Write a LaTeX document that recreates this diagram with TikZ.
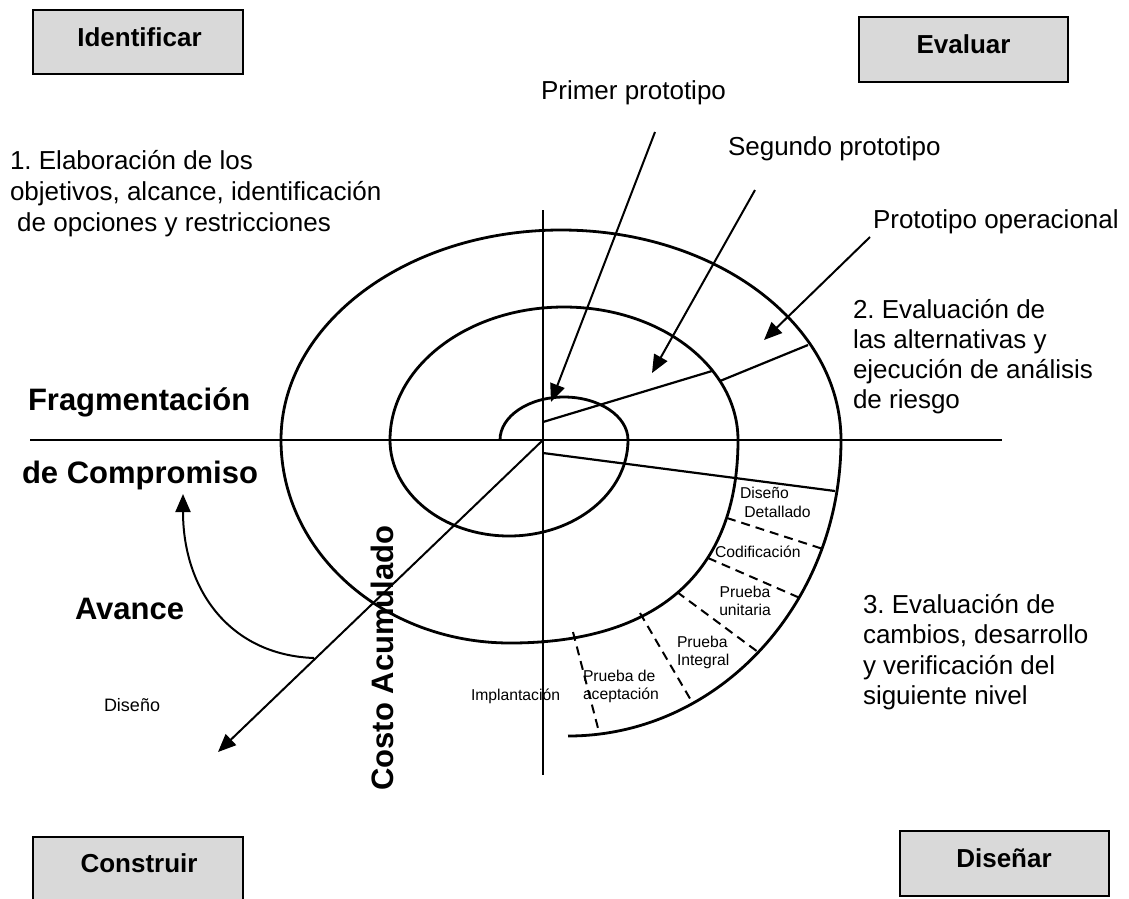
\documentclass[tikz,border=0pt]{standalone}
\usepackage{fontspec}
\setmainfont{Liberation Sans}
\usetikzlibrary{arrows.meta}

% stacked lines with a fixed baseline distance; the baseline of the stack is that of its first line
\newcommand\stackleft[2]{\vtop{\baselineskip=#1\relax\halign{##\hfil\cr#2\crcr}}}
\newcommand\stackmid[2]{\vtop{\baselineskip=#1\relax\halign{\hfil##\hfil\cr#2\crcr}}}

\definecolor{boxgray}{RGB}{217,217,217}

\tikzset{
  every node/.style={inner sep=0pt, outer sep=0pt},
  txt/.style={font=\fontsize{26}{30}\selectfont},
  heavy/.style={font=\bfseries\fontsize{31}{36}\selectfont},
  boxtxt/.style={font=\bfseries\fontsize{26}{30}\selectfont},
  tiny/.style={font=\fontsize{15.7}{18}\selectfont},
  phase/.style={draw=black, line width=2pt, fill=boxgray, minimum width=210pt, minimum height=64pt},
  spiralline/.style={line width=2.8pt, line join=round},
  axisline/.style={line width=2pt},
  sector/.style={line width=2.2pt},
  subsector/.style={line width=2pt, dash pattern=on 9pt off 6pt},
  pointer/.style={line width=2pt, -{Triangle[length=18pt,width=15pt]}},
}

\begin{document}
\frenchspacing
\begin{tikzpicture}[x=1pt, y=-1pt]
\path[use as bounding box] (0,0) rectangle (1129,898);
\clip (0,0) rectangle (1129,898);

% ---- phase boxes in the four corners
\node[phase] (boxId)  at (138,42)   {};
\node[phase, minimum width=209pt, minimum height=65pt] (boxEv) at (963.5,49.5) {};
\node[phase, minimum height=70pt] (boxCo) at (138,872) {};
\node[phase, minimum width=209pt, minimum height=65pt] (boxDi) at (1004.5,863.5) {};
\node[boxtxt, anchor=base] (lblId) at (139.5,46)  {Identificar};
\node[boxtxt, anchor=base] (lblEv) at (963.5,53)  {Evaluar};
\node[boxtxt, anchor=base] (lblCo) at (139,872)   {Construir};
\node[boxtxt, anchor=base] (lblDi) at (1004,867)  {Diseñar};

% ---- axes
\coordinate (O)    at (543,440);
\coordinate (axL)  at (30,440);
\coordinate (axR)  at (1002,440);
\coordinate (axT)  at (543,210);
\coordinate (axB)  at (543,775);
\draw[axisline] (axL) -- (axR);
\draw[axisline] (axT) -- (axB);

% ---- spiral
\coordinate (sp0) at (500,440);
\draw[spiralline] (sp0)
  arc[start angle=180, end angle=0,    x radius=64pt,  y radius=43pt]
  arc[start angle=0,   end angle=-180, x radius=119pt, y radius=96pt]
  arc[start angle=180, end angle=0,    x radius=174pt, y radius=133pt]
  .. controls (738,572) and (658,643) .. (510,643)
  arc[start angle=-90, end angle=-180, x radius=229pt, y radius=203pt]
  arc[start angle=180, end angle=0,    x radius=280pt, y radius=210pt]
  arc[start angle=0,   end angle=-90,  x radius=273pt, y radius=296pt];

% ---- radial dividers
\coordinate (rA1) at (543,422);  \coordinate (rA2) at (712,371);
\coordinate (rB1) at (720,381);  \coordinate (rB2) at (808,345);
\coordinate (rC1) at (543,453);  \coordinate (rC2) at (835,491);
\draw[sector] (rA1) -- (rA2);
\draw[sector] (rB1) -- (rB2);
\draw[sector] (rC1) -- (rC2);

\coordinate (d1a) at (727,518); \coordinate (d1b) at (823,549);
\coordinate (d2a) at (708,558); \coordinate (d2b) at (800,598);
\coordinate (d3a) at (677,592); \coordinate (d3b) at (758,652);
\coordinate (d4a) at (640,613); \coordinate (d4b) at (692,702);
\coordinate (d5a) at (573,632); \coordinate (d5b) at (599,732);
\draw[subsector] (d1a) -- (d1b);
\draw[subsector] (d2a) -- (d2b);
\draw[subsector] (d3a) -- (d3b);
\draw[subsector] (d4a) -- (d4b);
\draw[subsector] (d5a) -- (d5b);

% ---- prototype labels and their pointers
\node[txt, anchor=base west] (proto1) at (541,99)  {Primer prototipo};
\node[txt, anchor=base west] (proto2) at (728,155) {Segundo prototipo};
\node[txt, anchor=base west] (proto3) at (873,228) {Prototipo operacional};
\coordinate (p1s) at (655,132); \coordinate (p1e) at (551,402);
\coordinate (p2s) at (755,190); \coordinate (p2e) at (652,373);
\coordinate (p3s) at (870,237); \coordinate (p3e) at (764,340);
\draw[pointer] (p1s) -- (p1e);
\draw[pointer] (p2s) -- (p2e);
\draw[pointer] (p3s) -- (p3e);

% ---- cumulative cost diagonal and the progress arrow
\coordinate (diagEnd) at (218,752);
\draw[pointer] (O) -- (diagEnd);
\coordinate (avS) at (314,658);
\coordinate (avE) at (183,494);
\draw[pointer] (avS) .. controls (230,655) and (183,590) .. (avE);

% ---- quadrant descriptions
\node[txt, anchor=base west] (q1) at (10,169)
  {\stackleft{31pt}{1. Elaboración de los\cr objetivos, alcance, identificación\cr\ de opciones y restricciones}};
\node[txt, anchor=base west] (q2) at (853,318)
  {\stackleft{30pt}{2. Evaluación de\cr las alternativas y\cr ejecución de análisis\cr de riesgo}};
\node[txt, anchor=base west] (q3) at (863,613)
  {\stackleft{30.5pt}{3. Evaluación de\cr cambios, desarrollo\cr y verificación del\cr siguiente nivel}};

\node[heavy, anchor=base west] (frag)  at (28,410) {Fragmentación};
\node[heavy, anchor=base west] (compr) at (22,483) {de Compromiso};
\node[heavy, anchor=base west] (avan)  at (75,619) {Avance};
\node[font=\fontsize{18}{21}\selectfont, anchor=base west] (dis) at (104,711) {Diseño};
\node[heavy, anchor=base, rotate=90] (costo) at (393,658) {Costo Acumulado};

% ---- development stages
\node[tiny, anchor=base west] (st1) at (740,498) {\stackleft{19pt}{Diseño\cr\ Detallado}};
\node[tiny, anchor=base west] (st2) at (715,557) {Codificación};
\node[tiny, anchor=base]      (st3) at (745,597) {\stackmid{18pt}{Prueba\cr unitaria}};
\node[tiny, anchor=base west] (st4) at (677,647) {\stackleft{18pt}{Prueba\cr Integral}};
\node[tiny, anchor=base west] (st5) at (583,681) {\stackleft{18pt}{Prueba de\cr aceptación}};
\node[tiny, anchor=base west] (st6) at (471,700) {Implantación};

\end{tikzpicture}
\end{document}
